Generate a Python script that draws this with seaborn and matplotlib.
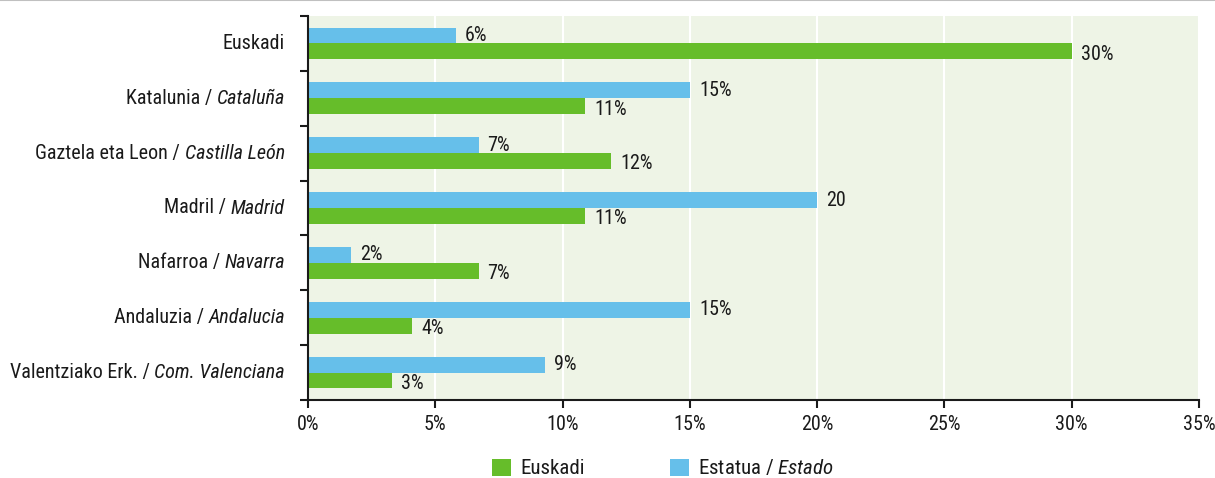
import matplotlib
matplotlib.use("Agg")
import matplotlib.pyplot as plt
import matplotlib.transforms as mtransforms
import seaborn as sns
import pandas as pd
from matplotlib import font_manager
from matplotlib.patches import Patch
from matplotlib.lines import Line2D

# --- data ---
regions = ["Euskadi", "Katalunia", "Gaztela eta Leon", "Madril", "Nafarroa",
           "Andaluzia", "Valentziako Erk."]
regions_es = ["", "Cataluña", "Castilla León", "Madrid", "Navarra",
              "Andalucia", "Com. Valenciana"]
euskadi = [30.0, 10.9, 11.9, 10.9, 6.7, 4.1, 3.3]
estatua = [5.8, 15.0, 6.7, 20.0, 1.7, 15.0, 9.3]
euskadi_labels = ["30%", "11%", "12%", "11%", "7%", "4%", "3%"]
estatua_labels = ["6%", "15%", "7%", "20", "2%", "15%", "9%"]
series_names = ["Estatua", "Euskadi"]
legend_names = ["Euskadi", "Estatua / $\\mathit{Estado}$"]
xticks = [0, 5, 10, 15, 20, 25, 30, 35]

green = "#66bd2a"
blue = "#66bfea"
bg = "#eef4e6"
txt = "#1a1a1a"

sns.set_theme(style="white")

names = {f.name for f in font_manager.fontManager.ttflist}
font = "DejaVu Sans"
for cand in ["Liberation Sans Narrow", "Roboto Condensed"]:
    if cand in names:
        font = cand
        break
plt.rcParams["font.family"] = [font, "DejaVu Sans"]
plt.rcParams["mathtext.fontset"] = "custom"
plt.rcParams["mathtext.rm"] = font
plt.rcParams["mathtext.it"] = font + ":italic"

df = pd.DataFrame({
    "region": regions * 2,
    "value": estatua + euskadi,
    "serie": [series_names[0]] * 7 + [series_names[1]] * 7,
})

fig = plt.figure(figsize=(12.15, 4.78), dpi=100)
ax = fig.add_axes([308 / 1215, 1 - 400 / 478, 891 / 1215, 384 / 478])
ax.set_facecolor(bg)

sns.barplot(data=df, y="region", x="value", hue="serie", order=regions,
            hue_order=series_names, palette=[blue, green], orient="h",
            width=0.58, gap=0, saturation=1, legend=False, ax=ax,
            edgecolor="none", linewidth=0)

# value labels: blue centred on bar, green a touch lower
for cont, labs, dy in zip(ax.containers, [estatua_labels, euskadi_labels], [0, -2]):
    anns = ax.bar_label(cont, labels=labs, padding=6.5, fontsize=14.5, color=txt)
    for a in anns:
        a.xyann = (6.5, dy)

ax.set_xlim(0, 35)
ax.set_ylim(6.5, -0.5)
ax.set_xticks(xticks, [f"{t}%" for t in xticks])
ax.xaxis.grid(True, color="white", linewidth=1.5)
ax.set_axisbelow(True)
ax.set_xlabel("")
ax.set_ylabel("")

ax.set_yticks(range(len(regions)), [""] * len(regions))
ax.set_yticks([i - 0.5 for i in range(len(regions) + 1)], minor=True)
ax.tick_params(axis="y", which="major", length=0)
ax.tick_params(axis="y", which="minor", length=6, width=1.5, color=txt, direction="out", left=True)
ax.tick_params(axis="x", length=6, width=1.5, color=txt, direction="out", bottom=True,
               pad=5, labelsize=14.5, labelcolor=txt)

# category labels: basque regular + spanish italic, right aligned
renderer = fig.canvas.get_renderer()
base = mtransforms.blended_transform_factory(ax.transAxes, ax.transData)
for i, (eu, es) in enumerate(zip(regions, regions_es)):
    x0 = -23
    if es:
        t = ax.text(0, i, es, style="italic", fontsize=14.5, color=txt, ha="right", va="center",
                    transform=mtransforms.offset_copy(base, fig=fig, x=x0, units="dots"))
        x0 -= t.get_window_extent(renderer).width
        eu = eu + " / "
    ax.text(0, i, eu, fontsize=14.5, color=txt, ha="right", va="center",
            transform=mtransforms.offset_copy(base, fig=fig, x=x0, units="dots"))

for s in ["top", "right"]:
    ax.spines[s].set_visible(False)
for s in ["left", "bottom"]:
    ax.spines[s].set_color(txt)
    ax.spines[s].set_linewidth(1.5)

handles = [Patch(facecolor=green, edgecolor="none"), Patch(facecolor=blue, edgecolor="none")]
fig.legend(handles, legend_names, loc="center", bbox_to_anchor=(0.546, 0.02), ncol=2,
           frameon=False, fontsize=15, handlelength=0.9, handleheight=0.9,
           handletextpad=0.45, columnspacing=4.1, labelcolor=txt, borderpad=0)

fig.add_artist(Line2D([0, 1], [0.999, 0.999], color="#c0c0c0", linewidth=1.5,
                      transform=fig.transFigure))

fig.savefig("out.png", dpi=100)
